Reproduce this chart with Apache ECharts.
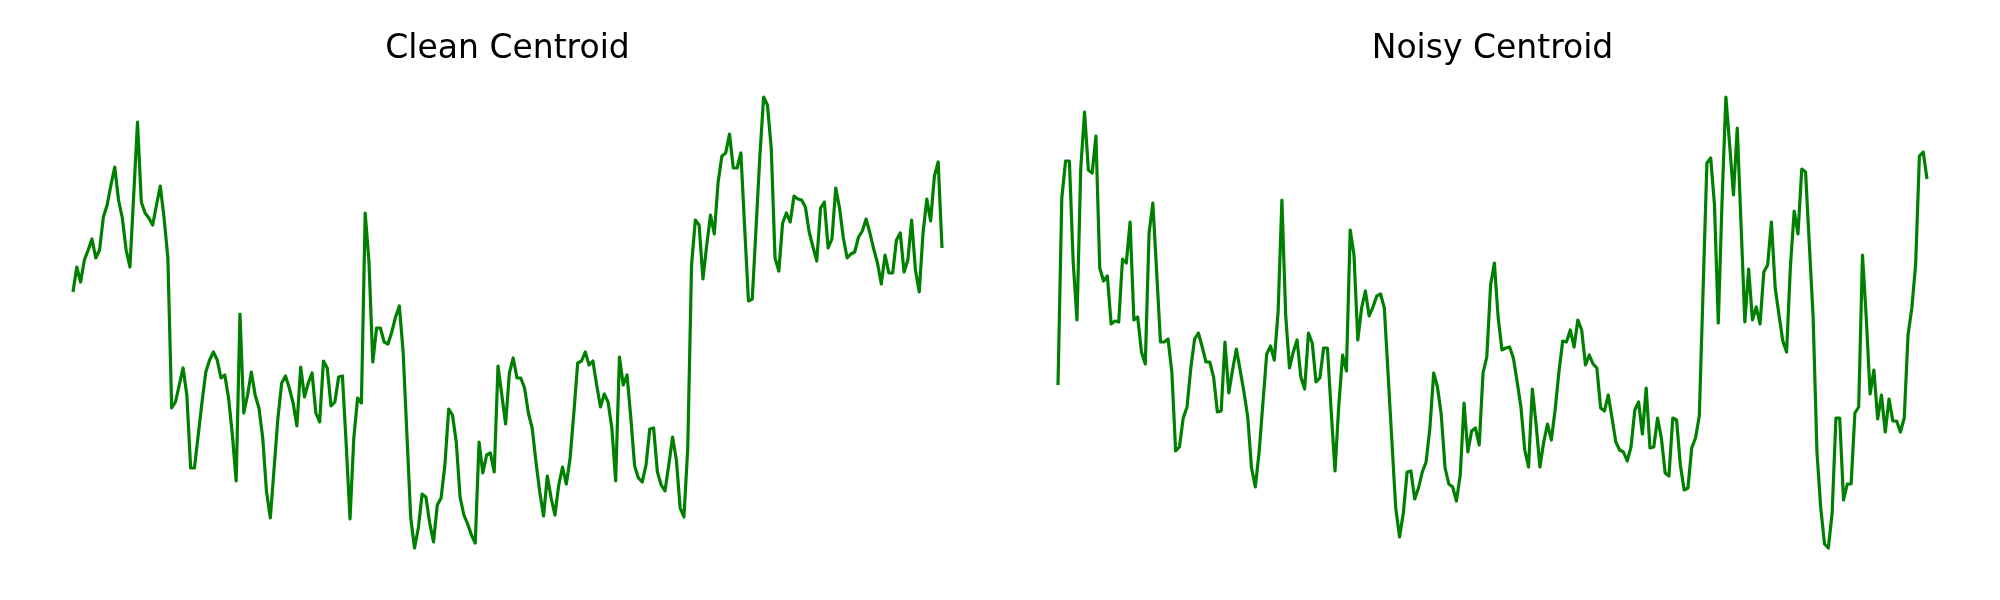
<!DOCTYPE html>
<html>
<head>
<meta charset="utf-8">
<title>Clean vs Noisy Centroid</title>
<script src="https://cdn.jsdelivr.net/npm/echarts@6/dist/echarts.min.js"></script>
<style>
  html, body { margin: 0; padding: 0; background: #fff; }
  #chart { width: 2000px; height: 600px; }
</style>
</head>
<body>
<div id="chart"></div>
<script>
// Centroid per frame (arbitrary units)
const cleanCentroid = [
  268, 293, 278, 300, 310, 321, 302, 310, 343, 355,
  375, 393, 360, 342, 310, 293, 365, 438, 358, 347,
  342, 335, 355, 374, 342, 302, 152, 158, 175, 192,
  165, 92, 92, 125, 158, 188, 200, 208, 200, 182,
  185, 162, 125, 79, 246, 147, 165, 188, 165, 152,
  122, 68, 42, 92, 142, 177, 184, 172, 157, 134,
  193, 163, 177, 187, 147, 138, 199, 192, 154, 158,
  183, 184, 115, 41, 122, 162, 157, 347, 298, 198,
  232, 232, 218, 216, 228, 243, 254, 208, 125, 42,
  12, 32, 66, 63, 37, 18, 55, 62, 95, 151,
  145, 118, 63, 45, 36, 25, 17, 118, 87, 105,
  107, 88, 194, 165, 136, 187, 202, 182, 182, 172,
  147, 132, 98, 68, 44, 84, 62, 45, 75, 93,
  76, 102, 148, 197, 199, 208, 195, 199, 175, 153,
  166, 158, 132, 79, 203, 175, 185, 142, 94, 82,
  78, 95, 131, 132, 88, 75, 69, 95, 123, 100,
  52, 43, 112, 295, 340, 335, 281, 315, 345, 326,
  378, 404, 407, 426, 392, 392, 407, 332, 259, 261,
  332, 404, 463, 455, 412, 302, 289, 337, 347, 338,
  364, 361, 360, 353, 328, 313, 299, 352, 358, 312,
  321, 372, 352, 322, 302, 306, 308, 323, 329, 341,
  327, 311, 297, 276, 305, 287, 287, 320, 327, 288,
  300, 340, 290, 268, 327, 361, 339, 384, 398, 312
];

const noisyCentroid = [
  175, 362, 399, 399, 298, 240, 392, 448, 390, 387,
  424, 292, 279, 284, 236, 239, 238, 301, 297, 338,
  240, 243, 208, 196, 327, 357, 288, 218, 218, 221,
  188, 109, 113, 142, 153, 192, 221, 227, 213, 198,
  198, 183, 148, 149, 218, 167, 190, 211, 190, 168,
  143, 92, 73, 108, 157, 206, 214, 200, 248, 360,
  245, 192, 208, 220, 183, 171, 227, 217, 178, 182,
  212, 212, 148, 89, 155, 205, 189, 330, 305, 220,
  252, 269, 244, 253, 264, 266, 252, 185, 118, 52,
  23, 47, 88, 89, 61, 72, 88, 98, 132, 187,
  173, 145, 92, 76, 73, 59, 85, 157, 108, 129,
  132, 115, 187, 203, 275, 297, 242, 210, 212, 213,
  202, 178, 153, 110, 93, 171, 135, 93, 118, 136,
  120, 150, 188, 219, 218, 230, 213, 240, 230, 195,
  205, 196, 192, 152, 149, 165, 142, 118, 110, 108,
  99, 113, 150, 158, 126, 172, 112, 113, 142, 122,
  87, 84, 142, 140, 95, 70, 72, 112, 122, 144,
  271, 397, 402, 355, 237, 360, 463, 415, 365, 432,
  335, 238, 291, 240, 253, 236, 288, 295, 338, 272,
  245, 219, 208, 293, 349, 326, 391, 388, 315, 242,
  108, 52, 16, 12, 47, 142, 142, 60, 76, 76,
  147, 153, 305, 242, 166, 190, 141, 165, 128, 161,
  139, 139, 128, 142, 225, 252, 295, 404, 408, 381
];

const panelTitles = ['Clean Centroid', 'Noisy Centroid'];
const frames = cleanCentroid.map((_, i) => i);

const chart = echarts.init(document.getElementById('chart'), null, { renderer: 'canvas' });

const panelLeft = [73, 1058];
const panelWidth = 869;
const hiddenX = (gridIndex) => ({
  type: 'category', gridIndex, data: frames, boundaryGap: false, show: false
});
const hiddenY = (gridIndex) => ({
  type: 'value', gridIndex, min: 'dataMin', max: 'dataMax', scale: true, show: false,
  splitLine: { show: false }
});
const lineSeries = (idx, data) => ({
  type: 'line', xAxisIndex: idx, yAxisIndex: idx, data,
  symbol: 'none', smooth: false, clip: false, animation: false,
  lineStyle: { color: '#008000', width: 3.2, join: 'round', cap: 'butt' }
});

chart.setOption({
  backgroundColor: '#ffffff',
  animation: false,
  grid: panelLeft.map(left => ({ left, width: panelWidth, top: 97, height: 451 })),
  xAxis: [hiddenX(0), hiddenX(1)],
  yAxis: [hiddenY(0), hiddenY(1)],
  series: [lineSeries(0, cleanCentroid), lineSeries(1, noisyCentroid)],
  graphic: panelTitles.map((text, i) => ({
    type: 'text',
    x: panelLeft[i] + panelWidth / 2,
    y: 49,
    style: {
      text,
      fill: '#000000',
      font: '33px "DejaVu Sans"',
      textAlign: 'center',
      textVerticalAlign: 'middle'
    }
  }))
});
</script>
</body>
</html>
